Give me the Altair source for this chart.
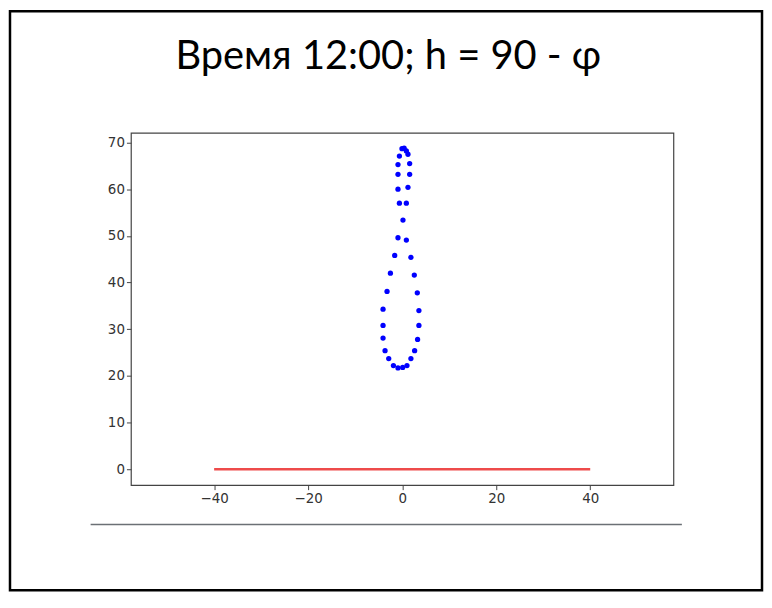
import altair as alt
import pandas as pd

# analemma points (x: degrees, y: altitude)
dot_x = [-0.04, 0.42, 0.89, -0.59, 1.23, -0.89, 1.59, -0.89, 1.59, -0.89, 1.23,
         -0.59, 0.89, 0.17, -0.89, 0.89, -1.59, 1.86, -2.50, 2.58, -3.22, 3.22,
         -4.07, 3.56, -4.07, 3.56, -4.07, 3.28, -3.64, 2.65, -2.86, 1.86, -1.86,
         1.02, -0.89, 0.11]
dot_y = [68.7, 68.8, 68.2, 67.1, 67.5, 65.3, 65.5, 63.2, 63.2, 60.0, 60.4,
         57.0, 57.0, 53.4, 49.6, 49.1, 45.8, 45.4, 42.0, 41.6, 38.1, 37.8,
         34.3, 34.0, 30.8, 30.8, 28.1, 27.8, 25.4, 25.4, 23.7, 23.7, 22.2,
         22.2, 21.7, 21.8]

# horizon line
line_x = [-40, 40]
line_y = [0, 0]

x_ticks = [-40, -20, 0, 20, 40]
y_ticks = [0, 10, 20, 30, 40, 50, 60, 70]
x_domain = [-57.7, 57.7]
y_domain = [-3.43, 72.1]

title_text = "Время 12:00; h = 90 - φ"

dots = pd.DataFrame({"x": dot_x, "y": dot_y})
hline = pd.DataFrame({"x": line_x, "y": line_y})
one = pd.DataFrame({"a": [0]})

xs = alt.Scale(domain=x_domain, nice=False, zero=False)
ys = alt.Scale(domain=y_domain, nice=False, zero=False)

axis_style = dict(title=None, grid=False, domain=False, tickColor="#444",
                  tickSize=4.5, labelFont="DejaVu Sans", labelFontSize=13.5,
                  labelColor="#333", labelPadding=2)

xax = alt.Axis(values=x_ticks, format="d", **axis_style)
yax = alt.Axis(values=y_ticks, format="d", **axis_style)

frame = alt.Chart(one).mark_rect(
    fill="white", fillOpacity=0, stroke="black", strokeWidth=2.5
).encode(x=alt.value(-121.5), x2=alt.value(634), y=alt.value(-122), y2=alt.value(459.5))

sep = alt.Chart(one).mark_rule(color="#6b7075", strokeWidth=1.6).encode(
    x=alt.value(-40.5), x2=alt.value(553.5), y=alt.value(393.5)
)

title = alt.Chart(one).mark_text(
    text=title_text, font="Lato", fontSize=40, color="black",
    align="center", baseline="alphabetic"
).encode(x=alt.value(258.5), y=alt.value(-64))

line = alt.Chart(hline).mark_line(color="#ee4b4b", strokeWidth=2.5).encode(
    x=alt.X("x:Q", scale=xs, axis=xax),
    y=alt.Y("y:Q", scale=ys, axis=yax),
)

pts = alt.Chart(dots).mark_circle(color="#0000ff", size=28, opacity=1).encode(
    x=alt.X("x:Q", scale=xs, axis=xax),
    y=alt.Y("y:Q", scale=ys, axis=yax),
)

chart = alt.layer(frame, sep, title, line, pts).properties(
    width=545, height=354,
    autosize=alt.AutoSizeParams(type="none"),
    padding={"left": 123.5, "top": 124, "right": 91, "bottom": 112},
    background="white",
).configure_view(stroke="#444", strokeWidth=1.2)

chart.save("out.html", embed_options={"renderer": "svg", "actions": False})
